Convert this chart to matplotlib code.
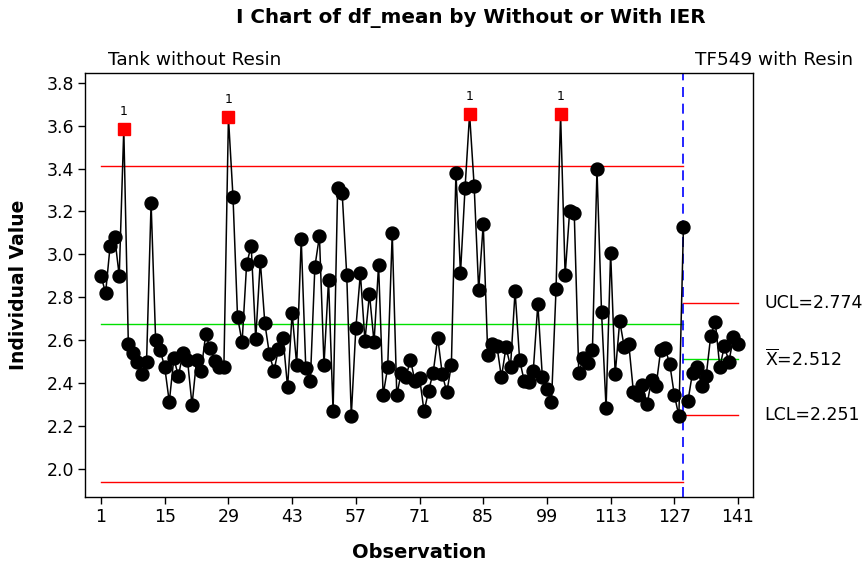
import numpy as np
import matplotlib.pyplot as plt

# I chart, two stages
stage1 = [2.90, 2.82, 3.04, 3.08, 2.90, 3.585, 2.582, 2.539, 2.498, 2.441,
          2.498, 3.240, 2.601, 2.554, 2.474, 2.312, 2.515, 2.433, 2.539, 2.508,
          2.298, 2.508, 2.458, 2.627, 2.562, 2.503, 2.473, 2.473, 3.639, 3.269,
          2.709, 2.590, 2.955, 3.040, 2.606, 2.970, 2.679, 2.536, 2.456, 2.559,
          2.612, 2.380, 2.726, 2.485, 3.070, 2.470, 2.410, 2.943, 3.085, 2.485,
          2.881, 2.268, 3.308, 3.284, 2.904, 2.247, 2.656, 2.911, 2.598, 2.815,
          2.590, 2.950, 2.345, 2.473, 3.098, 2.345, 2.449, 2.428, 2.508, 2.410,
          2.426, 2.268, 2.365, 2.449, 2.612, 2.441, 2.357, 2.485, 3.381, 2.911,
          3.308, 3.654, 3.321, 2.834, 3.141, 2.532, 2.582, 2.574, 2.427, 2.567,
          2.477, 2.829, 2.508, 2.410, 2.403, 2.458, 2.768, 2.427, 2.374, 2.314,
          2.837, 3.654, 2.904, 3.204, 3.195, 2.449, 2.515, 2.492, 2.554, 3.396,
          2.732, 2.283, 3.008, 2.441, 2.689, 2.567, 2.580, 2.360, 2.345, 2.391,
          2.301, 2.415, 2.388, 2.554, 2.562, 2.488, 2.345, 2.247, 3.129]
stage2 = [2.317, 2.449, 2.477, 2.388, 2.433, 2.620, 2.686, 2.473, 2.573, 2.500,
          2.614, 2.582]

ucl1, cl1, lcl1 = 3.413, 2.676, 1.939
ucl2, cl2, lcl2 = 2.774, 2.512, 2.251

stage_names = ['Tank without Resin', 'TF549 with Resin']
xticks = [1, 15, 29, 43, 57, 71, 85, 99, 113, 127, 141]
yticks = [2.0, 2.2, 2.4, 2.6, 2.8, 3.0, 3.2, 3.4, 3.6, 3.8]

plt.rcParams['font.family'] = 'DejaVu Sans'
plt.rcParams['mathtext.fontset'] = 'dejavusans'

fig = plt.figure(figsize=(8.66, 5.66), dpi=100)
ax = fig.add_axes([0.0982, 0.1219, 0.771, 0.7497])

n1 = len(stage1)
n2 = len(stage2)
x1 = np.arange(1, n1 + 1)
x2 = np.arange(n1 + 1, n1 + n2 + 1)
y1 = np.array(stage1)
y2 = np.array(stage2)
split = n1  # stage line sits on the last point of stage 1

# control limits
ax.plot([1, split], [ucl1, ucl1], color='red', lw=1.0, zorder=1)
ax.plot([1, split], [lcl1, lcl1], color='red', lw=1.0, zorder=1)
ax.plot([1, split], [cl1, cl1], color='#00e000', lw=1.0, zorder=1)
ax.plot([split, x2[-1]], [ucl2, ucl2], color='red', lw=1.0, zorder=1)
ax.plot([split, x2[-1]], [lcl2, lcl2], color='red', lw=1.0, zorder=1)
ax.plot([split, x2[-1]], [cl2, cl2], color='#00e000', lw=1.0, zorder=1)
ax.axvline(split, color='blue', lw=1.2, ls=(0, (6, 4)), zorder=2)

# data lines
ax.plot(x1, y1, color='black', lw=1.1, zorder=3)
ax.plot(x2, y2, color='black', lw=1.1, zorder=3)

# points, out of control ones as red squares with a "1"
out1 = (y1 > ucl1) | (y1 < lcl1)
ax.plot(x1[~out1], y1[~out1], 'o', color='black', ms=9.3, zorder=4)
ax.plot(x2, y2, 'o', color='black', ms=9.3, zorder=4)
ax.plot(x1[out1], y1[out1], 's', color='red', ms=8, zorder=5)
for xx, yy in zip(x1[out1], y1[out1]):
    ax.annotate('1', (xx, yy), xytext=(0, 8), textcoords='offset points',
                ha='center', va='bottom', fontsize=9)

ax.set_xlim(1 - 16 / 4.55, 141 + 14.7 / 4.55)
ax.set_ylim(1.869, 3.847)
ax.set_xticks(xticks)
ax.set_yticks(yticks)
ax.set_yticklabels(['%.1f' % t for t in yticks])
ax.tick_params(direction='out', length=5, width=1, labelsize=12.5, pad=3)
for s in ax.spines.values():
    s.set_linewidth(1.0)

ax.set_xlabel('Observation', fontsize=14, fontweight='bold', labelpad=12)
ax.set_ylabel('Individual Value', fontsize=13.5, fontweight='bold', labelpad=13)

# stage 2 limit labels, right of the frame
tr = ax.get_yaxis_transform()
ax.text(1.018, ucl2, 'UCL=%.3f' % ucl2, transform=tr, fontsize=12.5,
        va='center', ha='left', clip_on=False)
ax.text(1.018, cl2, r'$\overline{\mathrm{X}}$=%.3f' % cl2, transform=tr,
        fontsize=12.5, va='center', ha='left', clip_on=False)
ax.text(1.018, lcl2, 'LCL=%.3f' % lcl2, transform=tr, fontsize=12.5,
        va='center', ha='left', clip_on=False)

# stage names and title
fig.text(108 / 866, 1 - 60 / 566, stage_names[0], fontsize=13.3, va='center')
fig.text(695 / 866, 1 - 60 / 566, stage_names[1], fontsize=13.3, va='center')
fig.text(471 / 866, 1 - 18 / 566, 'I Chart of df_mean by Without or With IER',
         fontsize=14.3, fontweight='bold', ha='center', va='center')

fig.savefig('out.png', dpi=100)
